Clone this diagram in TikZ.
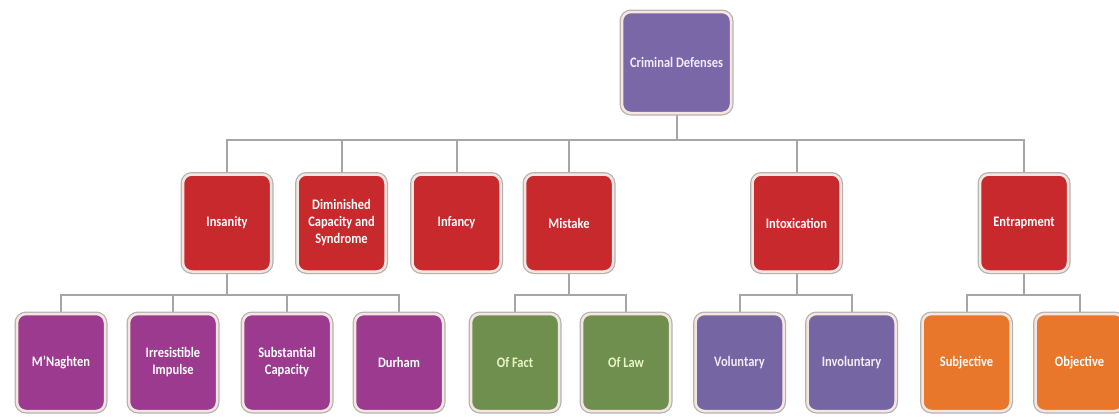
\documentclass[tikz,border=0pt]{standalone}
\usepackage{fontspec}
\setmainfont{Carlito}[FakeStretch=0.86]
\usetikzlibrary{backgrounds}
\definecolor{ctop}{HTML}{7A67A8}
\definecolor{cred}{HTML}{C8292D}
\definecolor{cmag}{HTML}{9B3A8E}
\definecolor{cgreen}{HTML}{6F8F4E}
\definecolor{cpurple}{HTML}{7565A3}
\definecolor{corange}{HTML}{E8762B}
\definecolor{cring}{HTML}{F7E6E0}
\definecolor{cline}{HTML}{A6A6A6}
\definecolor{tlav}{HTML}{F0ECFA}
\definecolor{tgreen}{HTML}{E8F4C8}
\tikzset{
  box/.style={rounded corners=9pt, minimum width=88pt, minimum height=97pt,
    align=center, inner sep=0pt, text=white,
    font=\bfseries\fontsize{14.5}{17}\selectfont,
    preaction={draw=gray!60, line width=5pt},
    draw=cring, line width=2.5pt},
  conn/.style={draw=cline, line width=2pt}
}
\begin{document}
\begin{tikzpicture}[x=1pt,y=-1pt]
\useasboundingbox (0,0) rectangle (1119,416);
\coordinate (b1) at (0,140);
\coordinate (b2) at (0,295);
% level 1
\node[box, fill=ctop, text=tlav, minimum width=109pt, minimum height=101pt] (root) at (676.5,62.5) {Criminal Defenses};
% level 2
\node[box, fill=cred] (ins) at (227,223) {Insanity};
\node[box, fill=cred] (dim) at (341.5,223) {Diminished\\Capacity and\\Syndrome};
\node[box, fill=cred] (inf) at (456.5,223) {Infancy};
\node[box, fill=cred] (mis) at (569,223) {Mistake};
\node[box, fill=cred] (itx) at (796.5,223) {Intoxication};
\node[box, fill=cred] (ent) at (1024,223) {Entrapment};
% level 3
\node[box, fill=cmag] (mn) at (61,362.5) {M'Naghten};
\node[box, fill=cmag] (irr) at (173,362.5) {Irresistible\\Impulse};
\node[box, fill=cmag] (sub) at (287,362.5) {Substantial\\Capacity};
\node[box, fill=cmag] (dur) at (399,362.5) {Durham};
\node[box, fill=cgreen, text=tgreen] (fact) at (515,362.5) {Of Fact};
\node[box, fill=cgreen, text=tgreen] (law) at (626,362.5) {Of Law};
\node[box, fill=cpurple, text=tlav] (vol) at (739.5,362.5) {Voluntary};
\node[box, fill=cpurple, text=tlav] (invol) at (851.5,362.5) {Involuntary};
\node[box, fill=corange] (subj) at (966.5,362.5) {Subjective};
\node[box, fill=corange] (obj) at (1079.5,362.5) {Objective};
% connectors
\begin{scope}[on background layer]
\foreach \c in {ins,dim,inf,mis,itx,ent}
  \draw[conn] (root.south) -- (root.south |- b1) -| (\c.north);
\foreach \c in {mn,irr,sub,dur}
  \draw[conn] (ins.south) -- (ins.south |- b2) -| (\c.north);
\foreach \c in {fact,law}
  \draw[conn] (mis.south) -- (mis.south |- b2) -| (\c.north);
\foreach \c in {vol,invol}
  \draw[conn] (itx.south) -- (itx.south |- b2) -| (\c.north);
\foreach \c in {subj,obj}
  \draw[conn] (ent.south) -- (ent.south |- b2) -| (\c.north);
\end{scope}
\end{tikzpicture}
\end{document}
